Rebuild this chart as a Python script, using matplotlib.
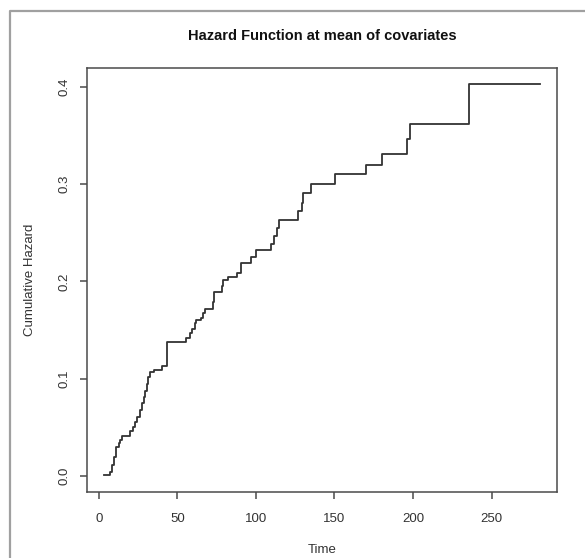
import matplotlib.pyplot as plt
from matplotlib.lines import Line2D

# step times and cumulative hazard
time = [3.6, 6.9, 8.4, 9.5, 11.0, 12.6, 13.7, 15.1, 20.0, 21.7, 23.1, 24.6,
        26.3, 27.4, 28.8, 29.6, 30.5, 31.5, 32.6, 35.1, 40.2, 43.5, 55.7,
        57.8, 59.5, 61.0, 62.0, 65.2, 66.6, 67.9, 72.9, 73.6, 78.4, 79.3,
        82.0, 88.3, 90.4, 90.8, 96.7, 99.9, 109.5, 111.5, 113.5, 115.0,
        126.7, 129.3, 130.3, 135.2, 150.3, 170.2, 180.1, 196.5, 198.2,
        235.4, 280.6]
hazard = [0.0013, 0.004, 0.0116, 0.020, 0.030, 0.034, 0.037, 0.041, 0.047,
          0.051, 0.056, 0.061, 0.068, 0.075, 0.081, 0.088, 0.095, 0.102,
          0.107, 0.109, 0.113, 0.138, 0.142, 0.147, 0.151, 0.157, 0.160,
          0.163, 0.168, 0.172, 0.179, 0.189, 0.195, 0.201, 0.205, 0.209,
          0.214, 0.219, 0.225, 0.232, 0.238, 0.247, 0.255, 0.263, 0.272,
          0.281, 0.291, 0.300, 0.310, 0.320, 0.331, 0.346, 0.362, 0.403,
          0.403]
xticks = [0, 50, 100, 150, 200, 250]
yticks = [0.0, 0.1, 0.2, 0.3, 0.4]

plt.rcParams['font.family'] = ['Liberation Sans', 'DejaVu Sans']
edge = '#4a4a4a'
txt = '#333333'

fig = plt.figure(figsize=(5.85, 5.58), dpi=100)
ax = fig.add_axes([87/585, 1 - 492/558, 470/585, 424/558])

ax.step(time, hazard, where='post', color='#333333', lw=1.3)

xmin, xmax = min(time), max(time)
dx = (xmax - xmin) * 0.04
ax.set_xlim(xmin - dx, xmax + dx)
dy = (max(hazard) - 0) * 0.04
ax.set_ylim(0 - dy, max(hazard) + dy)

ax.set_xticks(xticks)
ax.set_xticklabels([str(t) for t in xticks])
ax.set_yticks(yticks)
ax.set_yticklabels(['%.1f' % t for t in yticks])
ax.tick_params(axis='both', direction='out', length=5, width=1.1,
               color=edge, labelcolor=txt, labelsize=9.5)
ax.tick_params(axis='x', pad=10)
ax.tick_params(axis='y', pad=7, labelrotation=90)
for lab in ax.get_yticklabels():
    lab.set_va('center')
for s in ax.spines.values():
    s.set_color(edge)
    s.set_linewidth(1.1)

fig.text(322/585, 1 - 36/558, 'Hazard Function at mean of covariates',
         ha='center', va='center', fontsize=10.5, fontweight='bold', color='#111111')
fig.text(322/585, 1 - 550/558, 'Time', ha='center', va='center',
         fontsize=9.5, color=txt)
fig.text(30/585, 1 - 280/558, 'Cumulative Hazard', ha='center', va='center',
         rotation=90, fontsize=9.5, color=txt)

# outer grey frame (left and top edges visible)
fig.add_artist(Line2D([10/585, 10/585, 1.0], [0.0, 1 - 11/558, 1 - 11/558],
                      transform=fig.transFigure, color='#a0a0a0', lw=1.6))

fig.savefig('out.png', dpi=100)
